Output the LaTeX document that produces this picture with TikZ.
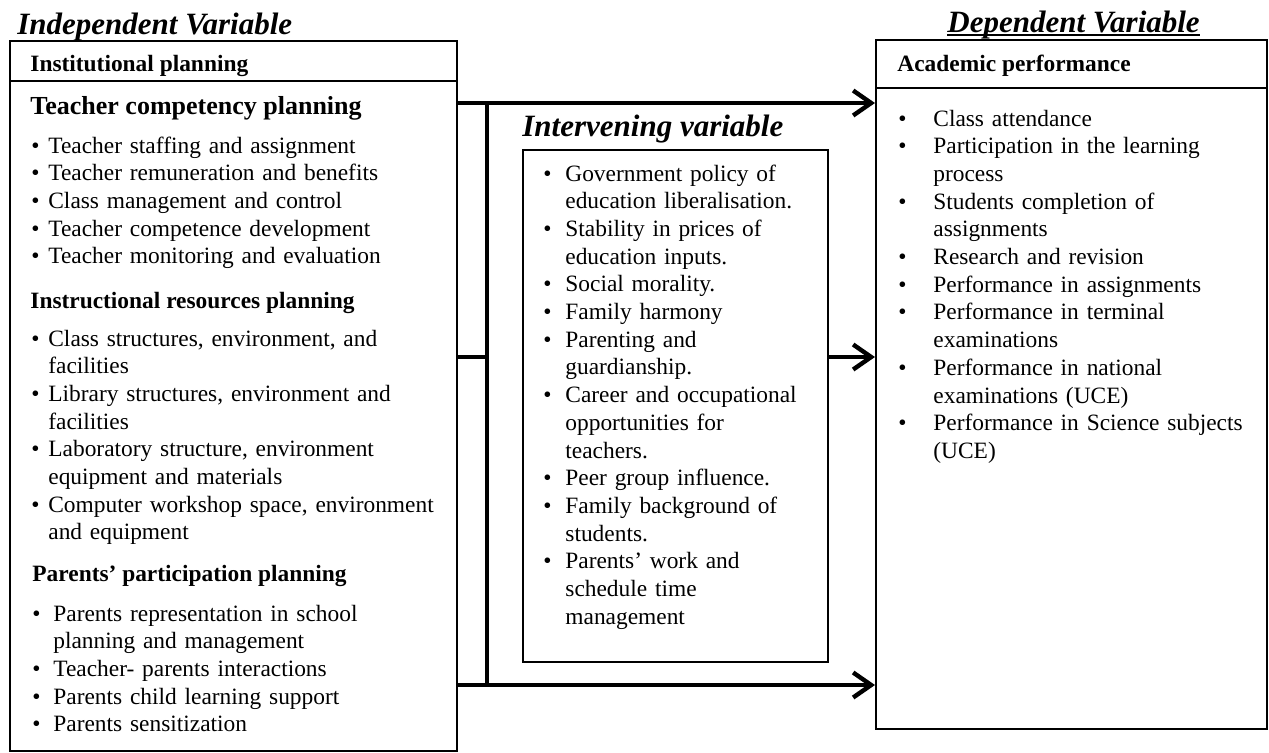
\documentclass[tikz,border=0pt]{standalone}
\usepackage{fontspec}
\setmainfont{Liberation Serif}
\usetikzlibrary{arrows.meta,positioning}

\newlength{\bind}
\newcommand{\bitem}[1]{\hangindent=\bind\hangafter=1\noindent\makebox[\bind][l]{\textbullet}#1\par}
\newcommand{\lnbrk}{\unskip\nobreak\hfil\break}

\tikzset{
  box/.style={draw, line width=1pt, inner sep=0pt, anchor=north west},
  vartitle/.style={inner sep=0pt, anchor=base west, font=\fontsize{15.5}{18}\selectfont\bfseries\itshape},
  head/.style={inner sep=0pt, anchor=base west, font=\fontsize{11.7}{13.85}\selectfont\bfseries},
  bighead/.style={head, font=\fontsize{13}{15}\selectfont\bfseries},
  blist/.style={inner sep=0pt, anchor=base west, align=left, text width=#1, font=\fontsize{11.7}{13.85}\selectfont},
  bullet indent/.style={execute at begin node={\setlength{\bind}{#1}}},
  link/.style={line width=2.2pt},
  flow/.style={link, -{Straight Barb[length=9pt,width=12.5pt]}}
}

\begin{document}
\begin{tikzpicture}[x=0.5pt, y=-0.5pt]
    \useasboundingbox (0,0) rectangle (1269,752);

    % boxes
    \node[box, minimum width=223.5pt, minimum height=355pt] (indep) at (9,40) {};
    \node[box, minimum width=195.5pt, minimum height=344.5pt] (dep) at (875,39) {};
    \node[box, line width=0.8pt, minimum width=152.5pt, minimum height=256pt] (interv) at (522,149) {};
    \draw[line width=1pt] ([yshift=-20.5pt]indep.north west) -- ([yshift=-20.5pt]indep.north east);
    \draw[line width=1pt] ([yshift=-24.5pt]dep.north west) -- ([yshift=-24.5pt]dep.north east);

    % titles
    \node[vartitle] (indeptitle) at (17,34) {Independent Variable};
    \node[vartitle] (deptitle) at (947,32) {Dependent Variable};
    \draw[line width=0.8pt] ([yshift=-1.4pt]deptitle.base west) -- ([yshift=-1.4pt]deptitle.base east);
    \node[vartitle] (intervtitle) at (522,136) {Intervening variable};

    % independent variable
    \node[head] (instplan) at (30,71) {Institutional planning};
    \node[bighead] (teachplan) at (30,114) {Teacher competency planning};
    \node[blist=210pt, bullet indent=8.5pt] (teachlist) at (31,153) {%
        \bitem{Teacher staffing and assignment}
        \bitem{Teacher remuneration and benefits}
        \bitem{Class management and control}
        \bitem{Teacher competence development}
        \bitem{Teacher monitoring and evaluation}};
    \node[head] (resplan) at (30,308) {Instructional resources planning};
    \node[blist=210pt, bullet indent=8.5pt] (reslist) at (31,346) {%
        \bitem{Class structures, environment, and\lnbrk facilities}
        \bitem{Library structures, environment and\lnbrk facilities}
        \bitem{Laboratory structure, environment\lnbrk equipment and materials}
        \bitem{Computer workshop space, environment\lnbrk and equipment}};
    \node[head] (parplan) at (32,581) {Parents’ participation planning};
    \node[blist=210pt, bullet indent=10.5pt] (parlist) at (32,621) {%
        \bitem{Parents representation in school\lnbrk planning and management}
        \bitem{Teacher- parents interactions}
        \bitem{Parents child learning support}
        \bitem{Parents sensitization}};

    % intervening variable
    \node[blist=140pt, bullet indent=11pt] (intervlist) at (543,181) {%
        \bitem{Government policy of\lnbrk education liberalisation.}
        \bitem{Stability in prices of\lnbrk education inputs.}
        \bitem{Social morality.}
        \bitem{Family harmony}
        \bitem{Parenting and\lnbrk guardianship.}
        \bitem{Career and occupational\lnbrk opportunities for\lnbrk teachers.}
        \bitem{Peer group influence.}
        \bitem{Family background of\lnbrk students.}
        \bitem{Parents’ work and\lnbrk schedule time\lnbrk management}};

    % dependent variable
    \node[head] (acadperf) at (897,71) {Academic performance};
    \node[blist=180pt, bullet indent=17.5pt] (deplist) at (898,126) {%
        \bitem{Class attendance}
        \bitem{Participation in the learning\lnbrk process}
        \bitem{Students completion of\lnbrk assignments}
        \bitem{Research and revision}
        \bitem{Performance in assignments}
        \bitem{Performance in terminal\lnbrk examinations}
        \bitem{Performance in national\lnbrk examinations (UCE)}
        \bitem{Performance in Science subjects\lnbrk (UCE)}};

    % connectors
    \coordinate (jtop) at (487,103);
    \coordinate (jmid) at (487,357);
    \coordinate (jbot) at (487,685);
    \draw[flow] (indep.east |- jtop) -- (dep.west |- jtop);
    \draw[link] (jtop) -- (jbot);
    \draw[link] (indep.east |- jmid) -- (jmid);
    \draw[flow] (interv.east |- jmid) -- (dep.west |- jmid);
    \draw[flow] (indep.east |- jbot) -- (dep.west |- jbot);
\end{tikzpicture}
\end{document}
